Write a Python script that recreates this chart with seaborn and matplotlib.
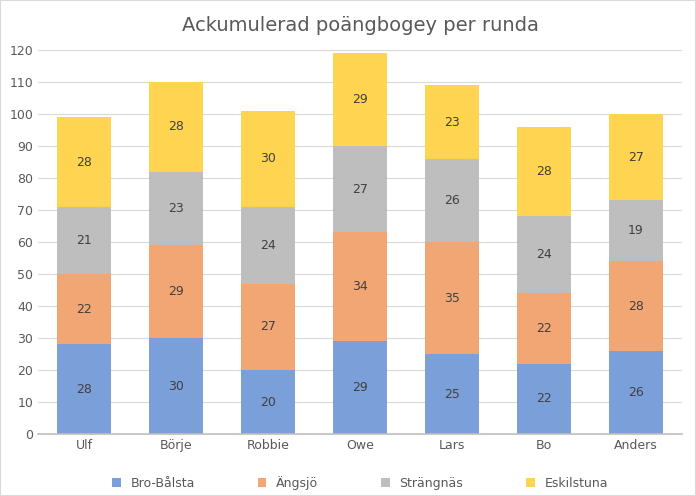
import matplotlib
matplotlib.use("Agg")
import matplotlib.pyplot as plt
import seaborn as sns
import pandas as pd
import numpy as np

players = ["Ulf", "Börje", "Robbie", "Owe", "Lars", "Bo", "Anders"]
bro = [28, 30, 20, 29, 25, 22, 26]
angsjo = [22, 29, 27, 34, 35, 22, 28]
strangnas = [21, 23, 24, 27, 26, 24, 19]
eskilstuna = [28, 28, 30, 29, 23, 28, 27]
series_names = ["Bro-Bålsta", "Ängsjö", "Strängnäs", "Eskilstuna"]
colors = ["#7B9FD9", "#F2A674", "#BEBEBE", "#FFD450"]

sns.set_theme(style="white")
plt.rcParams['font.family'] = ['DejaVu Sans']
fig = plt.figure(figsize=(6.96, 4.96), dpi=100)
ax = fig.add_axes([38/696, 1-434/496, (682-38)/696, (434-50)/496])

vals = [bro, angsjo, strangnas, eskilstuna]
bottom = np.zeros(len(players))
for name, v, c in zip(series_names, vals, colors):
    df = pd.DataFrame({"p": players, "v": v})
    sns.barplot(data=df, x="p", y="v", color=c, width=0.58, bottom=bottom,
                ax=ax, label=name, saturation=1, linewidth=0)
    for i, val in enumerate(v):
        ax.text(i, bottom[i] + val/2, str(val), ha="center", va="center",
                fontsize=9, color="#404040")
    bottom = bottom + np.array(v)

ax.set_ylim(0, 120)
ax.set_xlim(-0.5, 6.5)
ax.set_yticks(range(0, 121, 10))
ax.yaxis.grid(True, color="#D9D9D9", linewidth=0.8)
ax.set_axisbelow(True)
for s in ["top", "right", "left"]:
    ax.spines[s].set_visible(False)
ax.spines["bottom"].set_color("#BFBFBF")
ax.tick_params(axis="both", labelsize=9, colors="#595959", length=0)
ax.set_xlabel("")
ax.set_ylabel("")
ax.set_title("Ackumulerad poängbogey per runda", fontsize=14, color="#595959", pad=14)
ax.legend(loc="upper center", bbox_to_anchor=(0.5, -0.08), ncol=4, frameon=False,
          fontsize=9, handlelength=0.7, handleheight=0.7, columnspacing=5,
          labelcolor="#595959")
fig.patches.append(plt.Rectangle((0, 0), 1, 1, transform=fig.transFigure,
                                 fill=False, edgecolor="#D9D9D9", linewidth=1.5))
fig.savefig("out.png", dpi=100)
